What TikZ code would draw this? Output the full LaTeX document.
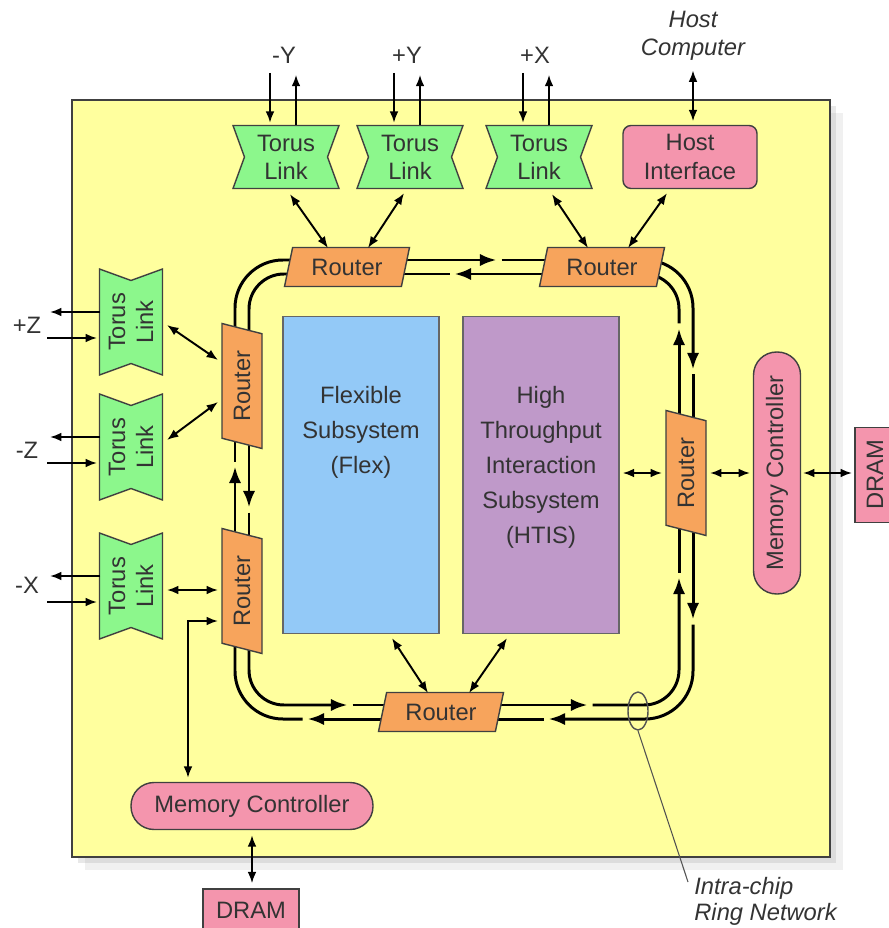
\documentclass[tikz,border=0pt]{standalone}
\usepackage{fontspec}
\setmainfont{Liberation Sans}
\usepackage{tikz}
\usetikzlibrary{positioning, arrows.meta, shapes.geometric, shapes.symbols, calc, shadows}
\definecolor{chipfill}{HTML}{FFFF9E}
\definecolor{linkfill}{HTML}{8CF78C}
\definecolor{routefill}{HTML}{F7A45C}
\definecolor{memfill}{HTML}{F495AD}
\definecolor{flexfill}{HTML}{93C9F7}
\definecolor{htisfill}{HTML}{BF99C9}
\definecolor{ink}{HTML}{333333}
\definecolor{edge}{HTML}{404040}
\pgfdeclarelayer{chiplayer}
\pgfdeclarelayer{ringlayer}
\pgfsetlayers{chiplayer,ringlayer,main}
\tikzset{
  lbl/.style      = {text=ink, font=\fontsize{13.5}{16}\selectfont},
  torus/.style    = {signal, signal to=nowhere, signal from=west and east,
                     signal pointer angle=140, draw=edge, line width=0.8pt,
                     fill=linkfill, minimum width=2.12cm, minimum height=1.26cm,
                     inner sep=1pt, align=center, lbl},
  router/.style   = {trapezium, trapezium left angle=68, trapezium right angle=112,
                     trapezium stretches body=true, draw=edge, line width=0.8pt,
                     fill=routefill, minimum width=2.5cm, minimum height=0.78cm,
                     inner sep=1pt, lbl},
  vrouter/.style  = {router, rotate=90, trapezium left angle=63,
                     trapezium right angle=117, minimum height=0.8cm},
  hostbox/.style  = {rectangle, rounded corners=0.16cm, draw=edge, line width=0.8pt,
                     fill=memfill, minimum width=2.68cm, minimum height=1.26cm,
                     inner sep=1pt, align=center, lbl},
  memctl/.style   = {rectangle, rounded corners=0.46cm, draw=edge, line width=0.8pt,
                     fill=memfill, minimum width=4.84cm, minimum height=0.94cm,
                     inner sep=1pt, lbl},
  dram/.style     = {rectangle, draw=edge, line width=0.8pt, fill=memfill,
                     minimum width=1.92cm, minimum height=0.8cm, inner sep=1pt, lbl},
  subsys/.style   = {rectangle, draw=edge!80, line width=0.8pt,
                     minimum width=3.12cm, minimum height=6.34cm},
  subtxt/.style   = {lbl, font=\fontsize{13.5}{19.9}\selectfont, align=center,
                     anchor=north, inner sep=0pt},
  conn/.style     = {{Latex[length=6.5pt,width=5pt]}-{Latex[length=6.5pt,width=5pt]},
                     line width=1.1pt},
  oneway/.style   = {-{Latex[length=6.5pt,width=5pt]}, line width=1.1pt},
  ring/.style     = {line width=1.7pt},
  ringarr/.style  = {ring, -{Latex[length=9.5pt,width=7pt]}, shorten >=0.05cm},
  ringcont/.style = {ring, shorten <=0.05cm},
}

\begin{document}
\begin{tikzpicture}[x=0.02cm, y=0.02cm]
  \useasboundingbox (0,0) rectangle (888,-928);

  % chip
  \begin{pgfonlayer}{chiplayer}
    \draw[fill=chipfill, draw=edge, line width=1pt,
          drop shadow={opacity=0.12, shadow xshift=0.26cm, shadow yshift=-0.26cm},
          drop shadow={opacity=0.18, shadow xshift=0.12cm, shadow yshift=-0.12cm}]
      (72,-100) rectangle (830,-857);
  \end{pgfonlayer}

  % torus links, top row
  \node[torus] (tl1) at (286,-157) {Torus\\Link};
  \node[torus] (tl2) at (410,-157) {Torus\\Link};
  \node[torus] (tl3) at (539,-157) {Torus\\Link};
  \node[hostbox] (host) at (690,-157) {Host\\Interface};
  \node[lbl] (ym) at (284,-55) {-Y};
  \node[lbl] (yp) at (407,-55) {+Y};
  \node[lbl] (xp) at (535,-55) {+X};
  \node[lbl, font=\fontsize{13.5}{16}\selectfont\itshape, align=center] (hostc)
       at (693,-36) {Host\\Computer};

  % torus links, left column
  \node[torus, rotate=90] (ll1) at (131,-322) {Torus\\Link};
  \node[torus, rotate=90] (ll2) at (131,-447) {Torus\\Link};
  \node[torus, rotate=90] (ll3) at (131,-586) {Torus\\Link};
  \node[lbl] (zp) at (27,-325) {+Z};
  \node[lbl] (zm) at (27,-450) {-Z};
  \node[lbl] (xm) at (27,-585) {-X};

  % routers
  \node[router] (t1) at (347,-267) {Router};
  \node[router] (t2) at (602,-267) {Router};
  \node[vrouter] (rr) at (686,-473) {Router};
  \node[router] (bb) at (441,-712) {Router};
  \node[vrouter] (l1) at (242,-386) {Router};
  \node[vrouter] (l2) at (242,-591) {Router};

  % subsystems
  \node[subsys, fill=flexfill] (flex) at (361,-475) {};
  \node[subsys, fill=htisfill] (htis) at (541,-475) {};
  \node[subtxt] (flextxt) at (361,-386) {Flexible\\Subsystem\\(Flex)};
  \node[subtxt] (htistxt) at (541,-386)
       {High\\Throughput\\Interaction\\Subsystem\\(HTIS)};

  % memory
  \node[memctl, rotate=90] (mcr) at (777,-473) {Memory Controller};
  \node[dram, rotate=90, minimum width=1.9cm] (dramr) at (875,-475) {DRAM};
  \node[memctl] (mcb) at (252,-806) {Memory Controller};
  \node[dram, minimum height=0.84cm] (dramb) at (251,-910) {DRAM};

  % ring annotation
  \node[ellipse, draw=ink!85, line width=0.8pt, minimum width=0.4cm,
        minimum height=0.76cm, inner sep=0pt] (ringmark) at (638,-711) {};
  \node[lbl, font=\fontsize{13.5}{14.8}\selectfont\itshape, align=left,
        anchor=north west, inner sep=0pt] (ringlbl) at (694,-877)
       {Intra-chip\\Ring Network};
  \draw[ink!85, line width=0.6pt] (ringmark.south) -- ($(ringlbl.north west)+(-6,-5)$);

  % ring gaps
  \coordinate (g0) at (499,-260);
  \coordinate (g2) at (693,-372);
  \coordinate (g3) at (693,-622);
  \coordinate (g4) at (546,-719);
  \coordinate (g5) at (305,-719);
  \coordinate (g6) at (235,-464);
  \coordinate (h0) at (452,-274);
  \coordinate (h1) at (249,-510);
  \coordinate (h2) at (350,-705);
  \coordinate (h3) at (590,-705);
  \coordinate (h4) at (679,-575);
  \coordinate (h5) at (679,-326);

  \begin{pgfonlayer}{ringlayer}
    % outer ring, clockwise
    \draw[ringarr] ($(t1)+(0,7)$) -- (g0);
    \draw[ringcont] (g0) -- ($(t2)+(0,7)$);
    \draw[ringarr, rounded corners=0.96cm] ($(t2)+(0,7)$) -| (g2);
    \draw[ringcont] (g2) -- ($(rr)+(7,0)$);
    \draw[ringarr] ($(rr)+(7,0)$) -- (g3);
    \draw[ringarr, ringcont, rounded corners=0.96cm] (g3) |- (g4);
    \draw[ringcont] (g4) -- ($(bb)+(0,-7)$);
    \draw[ringarr] ($(bb)+(0,-7)$) -- (g5);
    \draw[ringcont, rounded corners=0.96cm] (g5) -| ($(l2)+(-7,0)$);
    \draw[ringarr] ($(l2)+(-7,0)$) -- (g6);
    \draw[ringcont] (g6) -- ($(l1)+(-7,0)$);
    \draw[ring, rounded corners=0.96cm] ($(l1)+(-7,0)$) |- ($(t1)+(0,7)$);
    % inner ring, counter-clockwise
    \draw[ringarr] ($(t2)+(0,-7)$) -- (h0);
    \draw[ringcont] (h0) -- ($(t1)+(0,-7)$);
    \draw[ring, rounded corners=0.7cm] ($(t1)+(0,-7)$) -| ($(l1)+(7,0)$);
    \draw[ringarr] ($(l1)+(7,0)$) -- (h1);
    \draw[ringcont] (h1) -- ($(l2)+(7,0)$);
    \draw[ringarr, rounded corners=0.7cm] ($(l2)+(7,0)$) |- (h2);
    \draw[ringcont] (h2) -- ($(bb)+(0,7)$);
    \draw[ringarr] ($(bb)+(0,7)$) -- (h3);
    \draw[ringarr, ringcont, rounded corners=0.7cm] (h3) -| (h4);
    \draw[ringcont] (h4) -- ($(rr)+(-7,0)$);
    \draw[ringarr] ($(rr)+(-7,0)$) -- (h5);
    \draw[ringcont, rounded corners=0.7cm] (h5) |- ($(t2)+(0,-7)$);
  \end{pgfonlayer}

  % off-chip links
  \draw[oneway] ($(tl1.north)+(-16,52)$) -- ($(tl1.north)+(-16,2)$);
  \draw[oneway] ($(tl1.north)+(10,0)$) -- ($(tl1.north)+(10,50)$);
  \draw[oneway] ($(tl2.north)+(-16,52)$) -- ($(tl2.north)+(-16,2)$);
  \draw[oneway] ($(tl2.north)+(10,0)$) -- ($(tl2.north)+(10,50)$);
  \draw[oneway] ($(tl3.north)+(-16,52)$) -- ($(tl3.north)+(-16,2)$);
  \draw[oneway] ($(tl3.north)+(10,0)$) -- ($(tl3.north)+(10,50)$);
  \draw[oneway] ($(ll1)+(-31,10)$) -- ($(ll1)+(-81,10)$);
  \draw[oneway] ($(ll1)+(-84,-16)$) -- ($(ll1)+(-34,-16)$);
  \draw[oneway] ($(ll2)+(-31,10)$) -- ($(ll2)+(-81,10)$);
  \draw[oneway] ($(ll2)+(-84,-16)$) -- ($(ll2)+(-34,-16)$);
  \draw[oneway] ($(ll3)+(-31,10)$) -- ($(ll3)+(-81,10)$);
  \draw[oneway] ($(ll3)+(-84,-16)$) -- ($(ll3)+(-34,-16)$);
  \draw[conn, shorten <=2pt, shorten >=2pt] (hostc.south) -- (hostc.south |- host.north);

  % links to routers
  \draw[conn] ($(tl1.south)+(4,-5)$) -- ($(t1)+(-19,19)$);
  \draw[conn] ($(tl2.south)+(-6,-4)$) -- ($(t1)+(21,19)$);
  \draw[conn] ($(tl3.south)+(13,-5)$) -- ($(t2)+(-14,19)$);
  \draw[conn] ($(host.south)+(-23,-4)$) -- ($(t2)+(26,19)$);
  \draw[conn] ($(ll1)+(36,-3)$) -- ($(l1)+(-24,26)$);
  \draw[conn] ($(ll2)+(36,7)$) -- ($(l1)+(-24,-16)$);
  \draw[conn] ($(ll3)+(36,-4)$) -- ($(l2)+(-24,1)$);

  % subsystems and memory
  \draw[conn] ($(htis.east)+(3,2)$) -- ($(rr)+(-24,0)$);
  \draw[conn] ($(rr)+(24,0)$) -- ($(mcr)+(-27,0)$);
  \draw[conn] ($(mcr)+(26,0)$) -- ($(dramr)+(-23,2)$);
  \draw[conn] ($(flex.south)+(31,-4)$) -- ($(bb)+(-13,19)$);
  \draw[conn] ($(htis.south)+(-34,-4)$) -- ($(bb)+(28,19)$);
  \draw[conn] ($(l2)+(-24,-30)$) -| ($(mcb.north)+(-64,4)$);
  \draw[conn] ($(mcb.south)+(0,-5)$) -- ($(mcb.south |- dramb.north)+(0,5)$);

\end{tikzpicture}
\end{document}
